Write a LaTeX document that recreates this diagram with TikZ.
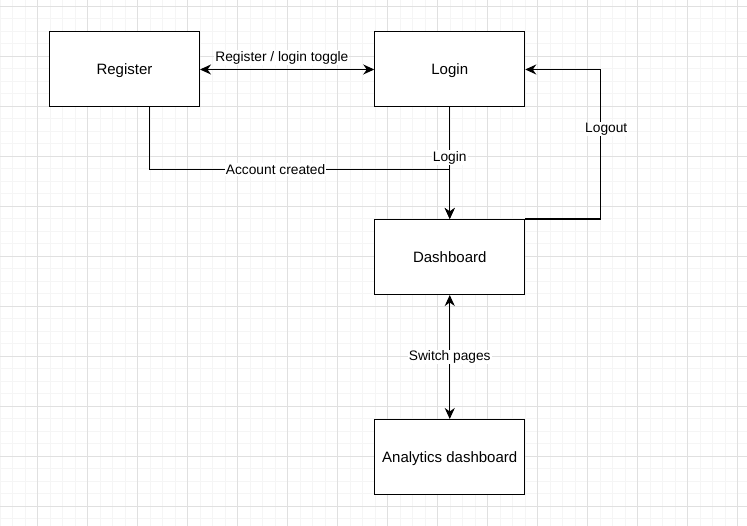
\documentclass[tikz,border=0pt]{standalone}
\usepackage{fontspec}
\setmainfont{Liberation Sans}
\usetikzlibrary{arrows.meta, positioning}
\definecolor{gridminor}{RGB}{245,245,245}
\definecolor{gridmajor}{RGB}{224,224,224}

\begin{document}
\begin{tikzpicture}[x=1pt, y=-1pt,
    screen/.style={draw=black, line width=1pt, fill=white, minimum width=150pt, minimum height=75pt, inner sep=0pt, text height=14pt, text depth=3pt, font=\fontsize{15}{18}\selectfont},
    flow/.style={draw=black, line width=1.1pt},
    tip/.tip={Stealth[length=11pt, width=10pt, inset=3.5pt]},
    tag/.style={fill=white, inner sep=1pt, font=\fontsize{13.75}{16}\selectfont}]
    \useasboundingbox (0,0) rectangle (747,526);
            \foreach \x in {0.3,12.8,...,747} \draw [gridminor, line width=1pt] (\x,0) -- (\x,526);   % minor grid, vertical
            \foreach \y in {6.3,18.8,...,526} \draw [gridminor, line width=1pt] (0,\y) -- (747,\y);   % minor grid, horizontal
            \foreach \x in {37.3,87.3,...,747} \draw [gridmajor, line width=1pt] (\x,0) -- (\x,526);  % major grid, vertical
            \foreach \y in {6.3,56.3,...,526} \draw [gridmajor, line width=1pt] (0,\y) -- (747,\y);   % major grid, horizontal
            \node [screen] (register) at (124.5,69.5) {Register};              % register page
            \node [screen] (login) at (449.75,69.5) {Login};                   % login page
            \node [screen] (dash) at (449.75,257) {Dashboard};                 % dashboard page
            \node [screen] (analytics) at (449.75,457) {Analytics dashboard};  % analytics page
            \coordinate (merge) at (449.75,169.5);                             % where the two lines meet
            \draw [flow, tip-tip] (register) -- (login) node [tag, pos=0.47, yshift=12pt] {Register / login toggle};
            \draw [flow, -tip] ([xshift=25pt]register.south) |- (merge) node [tag, pos=0.71] {Account created} -- (dash.north);
            \draw [flow, -tip] (login) -- (dash) node [tag, pos=0.45] {Login};
            \draw [flow, -tip] (dash.north east) -- ++(75,0) |- (login.east) node [tag, pos=0.3, xshift=6pt] {Logout};
            \draw [flow, tip-tip] (dash) -- (analytics) node [tag, midway] {Switch pages};
\end{tikzpicture}
\end{document}
